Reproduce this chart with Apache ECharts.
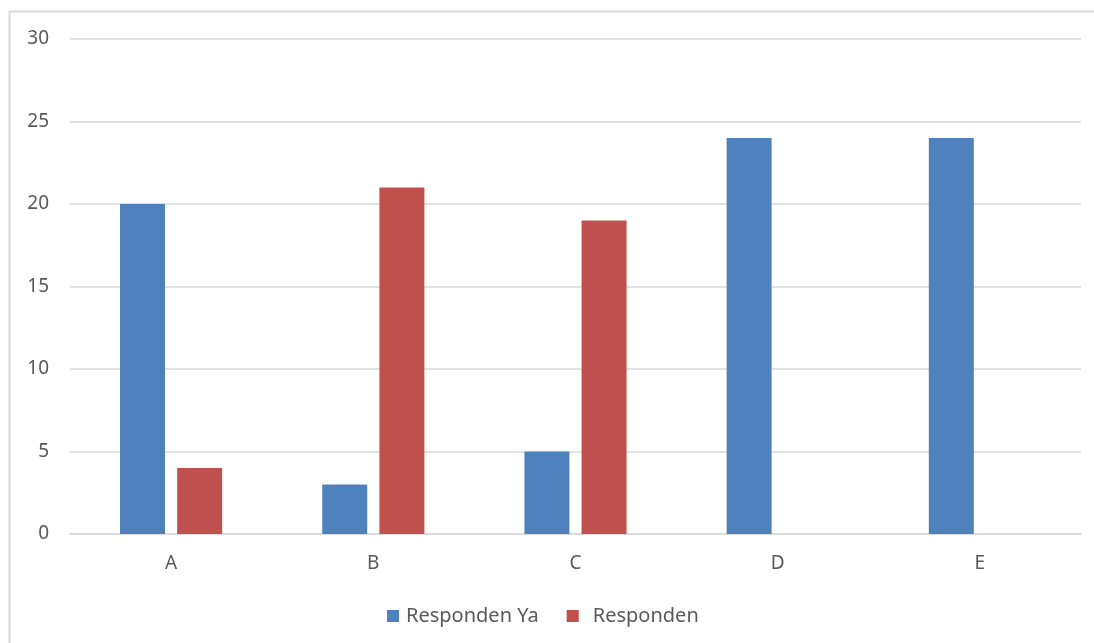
<!DOCTYPE html>
<html>
<head>
<meta charset="utf-8">
<script src="https://cdn.jsdelivr.net/npm/echarts@6/dist/echarts.min.js"></script>
<style>
  html, body { margin: 0; padding: 0; background: #ffffff; }
  #chart { width: 1094px; height: 643px; }
</style>
</head>
<body>
<div id="chart"></div>
<script>
// Categories and series values
const categories = ['A', 'B', 'C', 'D', 'E'];
const seriesNames = ['Responden Ya', 'Responden'];
const respondenYa = [20, 3, 5, 24, 24];
const responden = [4, 21, 19, 0, 0];
const yTicks = { min: 0, max: 30, interval: 5 };

const chart = echarts.init(document.getElementById('chart'), null, { renderer: 'canvas' });
const font = '"Noto Sans", "Liberation Sans", sans-serif';
const textColor = '#595959';

chart.setOption({
  animation: false,
  backgroundColor: '#ffffff',
  graphic: [{
    type: 'rect',
    shape: { x: 9.5, y: 11.5, width: 1200, height: 700 },
    style: { fill: 'none', stroke: '#d9d9d9', lineWidth: 2 },
    silent: true,
    z: -1
  }],
  grid: { left: 70, right: 13, top: 39, bottom: 109, containLabel: false },
  legend: {
    data: seriesNames,
    bottom: 12,
    left: 382,
    itemWidth: 12,
    itemHeight: 12,
    itemGap: 28,
    icon: 'rect',
    formatter: name => name === seriesNames[1] ? '{b|' + name + '}' : '{a|' + name + '}',
    textStyle: {
      color: textColor, fontSize: 20, fontFamily: font,
      rich: {
        a: { color: textColor, fontSize: 20, fontFamily: font, padding: [0, 0, 0, 2] },
        b: { color: textColor, fontSize: 20, fontFamily: font, padding: [0, 0, 0, 9] }
      }
    }
  },
  xAxis: {
    type: 'category',
    data: categories,
    axisLine: { lineStyle: { color: '#d9d9d9', width: 1.5 } },
    axisTick: { show: false },
    axisLabel: { color: textColor, fontSize: 19, fontFamily: font, margin: 20 }
  },
  yAxis: {
    type: 'value',
    min: yTicks.min,
    max: yTicks.max,
    interval: yTicks.interval,
    axisLine: { show: false },
    axisTick: { show: false },
    splitLine: { lineStyle: { color: '#d9d9d9', width: 1.5 } },
    axisLabel: { color: textColor, fontSize: 19, fontFamily: font, margin: 21 }
  },
  series: [
    {
      name: seriesNames[0],
      type: 'bar',
      data: respondenYa,
      barWidth: 45,
      barGap: '27%',
      itemStyle: { color: '#4f81bd' }
    },
    {
      name: seriesNames[1],
      type: 'bar',
      data: responden,
      barWidth: 45,
      itemStyle: { color: '#c0504d' }
    }
  ]
});
</script>
</body>
</html>
